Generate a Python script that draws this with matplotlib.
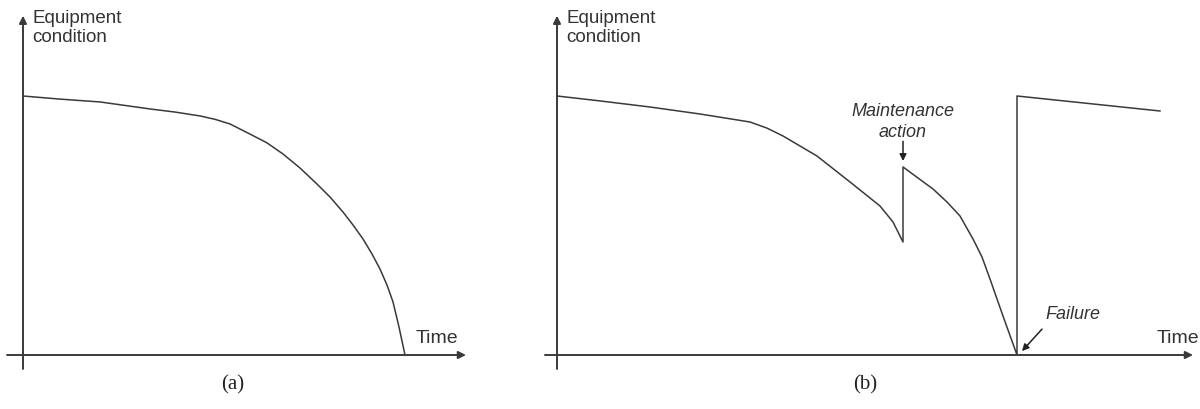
import matplotlib.pyplot as plt
import numpy as np

plt.rcParams['font.family'] = ['Liberation Sans', 'DejaVu Sans']

# panel (a): condition decays until failure
time_a = [0, 9.25, 19.25, 31.75, 38, 44.25, 48, 51.75, 56.75, 61, 65, 69.25, 73.5,
          76.75, 80, 82.5, 85, 87.25, 89.25, 91, 92.5, 94, 95.5]
cond_a = [100, 98.8, 97.7, 95.0, 93.8, 92.3, 91.0, 89.2, 85.3, 81.9, 77.6, 72.2, 66.0,
          61.0, 55.2, 50.2, 44.8, 39.0, 33.2, 27.0, 20.5, 10.8, 0]

# panel (b): maintenance action, then failure and replacement
time_b = [0, 10.75, 23.25, 35.75, 48.25, 52.5, 56.5, 65, 73.25, 80.75, 84, 86.5,
          86.5, 94, 97.5, 100.75, 104, 106.25, 108.25, 111.5, 115,
          115, 150.75]
cond_b = [100, 98.1, 95.75, 93.05, 89.96, 87.6, 84.56, 76.83, 66.80, 57.53, 51.35, 43.63,
          72.59, 64.09, 59.07, 53.67, 44.79, 37.84, 29.34, 15.06, 0,
          100, 94.21]

maint_time = 86.5
maint_cond = 72.59
fail_time = 115

line_col = '#3a3a3a'
text_col = '#333333'

fig = plt.figure(figsize=(12, 4.1), dpi=100)
ax_a = fig.add_axes([0, 0, 0.4, 1])
ax_b = fig.add_axes([500 / 1200, 0, 700 / 1200, 1])

ax_a.set_xlim(-5.75, 114.25)
ax_b.set_xlim(-14.25, 160.75)
for ax in (ax_a, ax_b):
    ax.set_ylim(-20.85, 137.45)
    ax.axis('off')


def drawAxes(ax, x_start, x_end):
    arrow = dict(arrowstyle='-|>', color=line_col, lw=1.4,
                 mutation_scale=11, shrinkA=0, shrinkB=0)
    ax.annotate('', xy=(0, 131.0), xytext=(0, -5.4), arrowprops=arrow)
    ax.annotate('', xy=(x_end, 0), xytext=(x_start, 0), arrowprops=arrow)
    ax.text(2.4, 133.5, 'Equipment\ncondition', fontsize=13.5, color=text_col,
            ha='left', va='top', linespacing=1.15)


drawAxes(ax_a, -4, 110.75)
drawAxes(ax_b, -3, 159)

ax_a.plot(time_a, cond_a, color=line_col, lw=1.1)
ax_b.plot(time_b, cond_b, color=line_col, lw=1.1)

ax_a.text(98.25, 6.6, 'Time', fontsize=14, color=text_col, ha='left', va='center')
ax_b.text(150, 6.6, 'Time', fontsize=14, color=text_col, ha='left', va='center')

ax_a.text(52.5, -11.2, '(a)', fontsize=15, color='#222222', ha='center',
          va='center', family='Liberation Serif')
ax_b.text(77, -11.2, '(b)', fontsize=15, color='#222222', ha='center',
          va='center', family='Liberation Serif')

small_arrow = dict(arrowstyle='-|>', color='#222222', lw=1.1,
                   mutation_scale=10, shrinkA=0, shrinkB=0)
ax_b.text(maint_time, 90.3, 'Maintenance\naction', fontsize=13,
          style='italic', color=text_col, ha='center', va='center',
          linespacing=1.25)
ax_b.annotate('', xy=(maint_time, maint_cond + 2.3), xytext=(maint_time, 82.5),
              arrowprops=small_arrow)

ax_b.text(122, 16.2, 'Failure', fontsize=13, style='italic', color=text_col,
          ha='left', va='center')
ax_b.annotate('', xy=(fail_time + 1.25, 1.5), xytext=(121.25, 10),
              arrowprops=small_arrow)

fig.savefig('out.png', dpi=100)
